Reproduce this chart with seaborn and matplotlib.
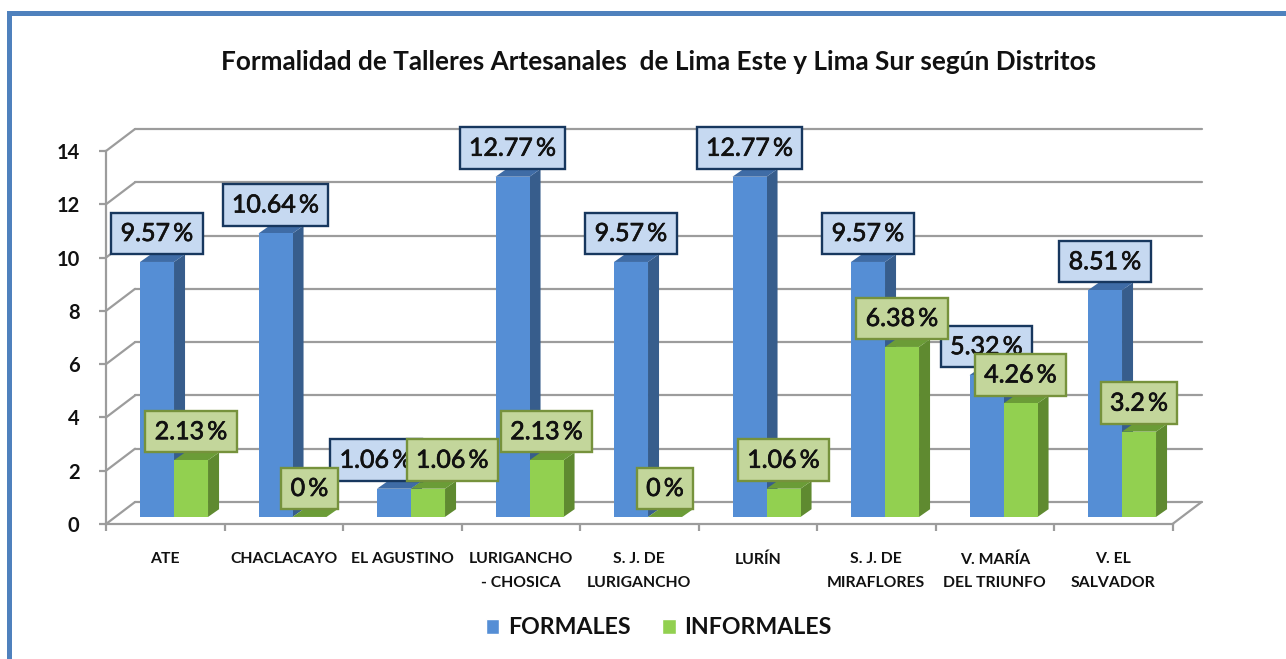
import matplotlib
matplotlib.use('Agg')
import matplotlib.pyplot as plt
import matplotlib.patheffects as pe
import pandas as pd
import seaborn as sns
from matplotlib.patches import Polygon, Rectangle
from matplotlib.transforms import Affine2D

sns.set_theme(style='white')
plt.rcParams['font.family'] = ['Lato', 'DejaVu Sans']

distritos = ['ATE', 'CHACLACAYO', 'EL AGUSTINO', 'LURIGANCHO\n- CHOSICA', 'S. J. DE\nLURIGANCHO',
             'LURÍN', 'S. J. DE\nMIRAFLORES', 'V. MARÍA\nDEL TRIUNFO', 'V. EL\nSALVADOR']
formales = [9.57, 10.64, 1.06, 12.77, 9.57, 12.77, 9.57, 5.32, 8.51]
informales = [2.13, 0, 1.06, 2.13, 0, 1.06, 6.38, 4.26, 3.2]
y_ticks = [0, 2, 4, 6, 8, 10, 12, 14]

titulo = 'Formalidad de Talleres Artesanales  de Lima Este y Lima Sur según Distritos'

GRIS = '#9c9c9c'
# front, side, top, label fill, label edge
ESTILOS = {
    'FORMALES': ('#558ed5', '#375d8c', '#3f6ca6', '#c6d9f1', '#17375e'),
    'INFORMALES': ('#92d050', '#5f8a30', '#6b9c37', '#c3d69b', '#76923c'),
}
# the two EL AGUSTINO labels sit apart so they do not hide each other (points)
AJUSTE_X = {('FORMALES', 2): -13, ('INFORMALES', 2): 17.5}

# depth of the fake 3d box, in data units
BACK_X, BACK_Y = 0.245, 0.826
BAR_X, BAR_Y = 0.074, 0.265
SIDE_X, SIDE_Y = 0.093, 0.29

df = pd.DataFrame({
    'distrito': distritos * 2,
    'valor': formales + informales,
    'tipo': ['FORMALES'] * 9 + ['INFORMALES'] * 9,
})

fig = plt.figure(figsize=(12.86, 6.59), dpi=100)
ax = fig.add_axes([106 / 1286, 1 - 524 / 659, 1066.5 / 1286, 373 / 659])
ax.patch.set_alpha(0)

sns.barplot(data=df, x='distrito', y='valor', hue='tipo', palette={k: v[0] for k, v in ESTILOS.items()},
            width=0.574, gap=0, saturation=1, linewidth=0, ax=ax, zorder=4)

ax.set_xlim(-0.5, 8.5)
ax.set_ylim(0, 14)
ax.set_xlabel('')
ax.set_ylabel('')

# back wall, side wall and floor
for t in y_ticks:
    ax.plot([-0.5 + BACK_X, 8.5 + BACK_X], [t + BACK_Y, t + BACK_Y], color=GRIS, lw=1.6, clip_on=False, zorder=1)
    ax.plot([-0.5, -0.5 + BACK_X], [t, t + BACK_Y], color=GRIS, lw=1.6, clip_on=False, zorder=1)
ax.plot([8.5, 8.5 + BACK_X], [0, BACK_Y], color=GRIS, lw=1.6, clip_on=False, zorder=1)

# bars: shift seaborn's rectangles off the front edge and add top and side faces
shift = Affine2D().translate(BAR_X, BAR_Y) + ax.transData
for z, (cont, tipo) in enumerate(zip(ax.containers, ESTILOS)):
    front, side, top, fill, edge = ESTILOS[tipo]
    for i, (rect, val) in enumerate(zip(cont, df[df.tipo == tipo].valor)):
        rect.set_transform(shift)
        rect.set_clip_on(False)
        rect.set_edgecolor('none')
        rect.set_zorder(4 + z)
        x0 = rect.get_x() + BAR_X
        x1 = x0 + rect.get_width()
        y0 = BAR_Y
        y1 = val + BAR_Y
        ax.add_patch(Polygon([(x1, y0), (x1 + SIDE_X, y0 + SIDE_Y), (x1 + SIDE_X, y1 + SIDE_Y), (x1, y1)],
                             fc=side, ec='none', clip_on=False, zorder=3.5 + z))
        ax.add_patch(Polygon([(x0, y1), (x0 + SIDE_X, y1 + SIDE_Y), (x1 + SIDE_X, y1 + SIDE_Y), (x1, y1)],
                             fc=top, ec='none', clip_on=False, zorder=3.5 + z))
        ax.annotate(f'{val:g}\u2009%', xy=((x0 + x1) / 2, y1), xytext=(AJUSTE_X.get((tipo, i), 0), 20.5),
                    xycoords='data', textcoords='offset points', ha='center', va='center', fontsize=18,
                    color='#111111', zorder=10 + z, annotation_clip=False,
                    path_effects=[pe.withStroke(linewidth=0.5, foreground='#111111')],
                    bbox=dict(boxstyle='square,pad=0.37', fc=fill, ec=edge, lw=1.7))

# axes
for s in ['top', 'right']:
    ax.spines[s].set_visible(False)
for s in ['left', 'bottom']:
    ax.spines[s].set_color(GRIS)
    ax.spines[s].set_linewidth(1.6)
ax.set_yticks(y_ticks)
ax.set_xticks(range(9))
ax.set_xticklabels(distritos, fontsize=11.3, weight='bold', color='#111111', linespacing=1.85)
ax.set_xticks([i - 0.5 for i in range(10)], minor=True)
ax.tick_params(axis='x', which='major', length=0, pad=20.5)
ax.tick_params(axis='x', which='minor', length=5, width=1.6, color=GRIS, bottom=True)
ax.tick_params(axis='y', length=5, width=1.6, color=GRIS, left=True, pad=14, labelsize=14.5, labelcolor='#111111')
for lab in ax.get_yticklabels():
    lab.set_weight('bold')

handles = [Rectangle((0, 0), 1, 1, fc=ESTILOS[k][0]) for k in ESTILOS]
ax.legend(handles, list(ESTILOS), ncol=2, frameon=False, loc='center', bbox_to_anchor=(658.5 / 1286, 1 - 628 / 659),
          bbox_transform=fig.transFigure, handlelength=0.6, handleheight=0.6, handletextpad=0.36,
          columnspacing=1.35, labelcolor='#111111', prop={'size': 16.7, 'weight': 'bold'})

fig.text(658.5 / 1286, 1 - 61.5 / 659, titulo, ha='center', va='center', fontsize=18.85, weight='bold', color='#111111')

# blue frame of the slide
fig.add_artist(Rectangle((7 / 1286, 0), 5 / 1286, 1 - 11 / 659, transform=fig.transFigure, fc='#4f81bd', ec='none'))
fig.add_artist(Rectangle((7 / 1286, 1 - 16 / 659), 1279 / 1286, 5 / 659, transform=fig.transFigure, fc='#4f81bd', ec='none'))

fig.savefig('out.png', dpi=100)
